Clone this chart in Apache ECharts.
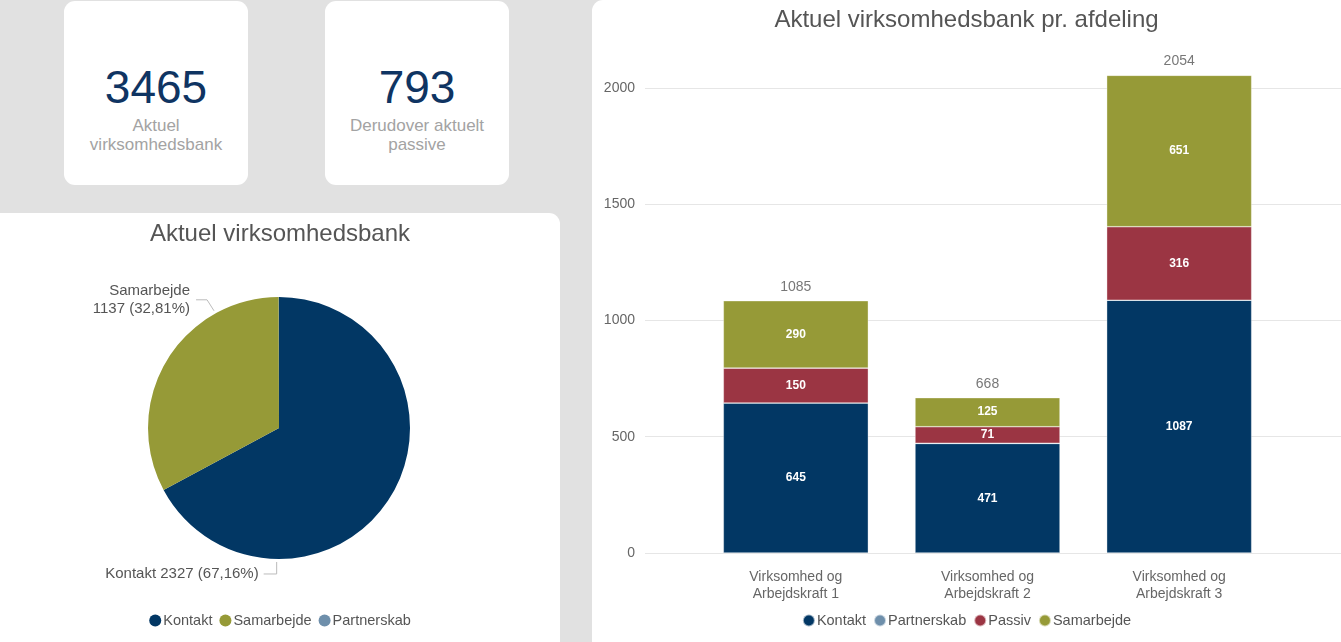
<!DOCTYPE html>
<html>
<head>
<meta charset="utf-8">
<script src="https://cdn.jsdelivr.net/npm/echarts@6/dist/echarts.min.js"></script>
<style>
  html, body { margin: 0; padding: 0; width: 1341px; height: 642px; overflow: hidden; background: #e1e1e1; font-family: 'Liberation Sans', Arial, sans-serif; }
  .card { position: absolute; background: #fff; border-radius: 11px; overflow: hidden; }
  .kpi { top: 1px; width: 184px; height: 184px; text-align: center; }
  .kpi .num { position: absolute; left: 0; right: 0; top: 60px; font-size: 46px; line-height: 52px; color: #0f3462; }
  .kpi .lbl { position: absolute; left: 0; right: 0; top: 115px; font-size: 17px; line-height: 19px; color: #a3a3a3; }
  #pieCard { left: -10px; top: 213px; width: 570px; height: 440px; }
  #pie { position: absolute; left: 10px; top: 0; width: 560px; height: 429px; }
  #barCard { left: 592px; top: 0; width: 760px; height: 652px; }
  #bar { position: absolute; left: 0; top: 0; width: 749px; height: 642px; }
</style>
</head>
<body>
<div class="card kpi" style="left:64px"><div class="num" id="kpi1"></div><div class="lbl">Aktuel<br>virksomhedsbank</div></div>
<div class="card kpi" style="left:325px"><div class="num" id="kpi2"></div><div class="lbl">Derudover aktuelt<br>passive</div></div>
<div class="card" id="pieCard"><div id="pie"></div></div>
<div class="card" id="barCard"><div id="bar"></div></div>
<script>
// KPI
const kpiAktuel = 3465;
const kpiPassive = 793;

// pie data
const pieNames = ['Kontakt', 'Samarbejde', 'Partnerskab'];
const pieValues = [2327, 1137, 1];

// bar data
const departments = ['Virksomhed og\nArbejdskraft 1', 'Virksomhed og\nArbejdskraft 2', 'Virksomhed og\nArbejdskraft 3'];
const kontakt = [645, 471, 1087];
const partnerskab = [0, 1, 0];
const passiv = [150, 71, 316];
const samarbejde = [290, 125, 651];
const totals = [1085, 668, 2054];
const yTicks = [0, 500, 1000, 1500, 2000];

const colors = {
  Kontakt: '#023764',
  Samarbejde: '#969a37',
  Partnerskab: '#6e8fab',
  Passiv: '#9b3543'
};
const font = "'Liberation Sans', Arial, sans-serif";

document.getElementById('kpi1').textContent = kpiAktuel;
document.getElementById('kpi2').textContent = kpiPassive;

// ---- pie ----
const pieChart = echarts.init(document.getElementById('pie'));
const pieCenter = [279, 215];
const pieRadius = 131;
// where Power BI puts the leader lines (degrees, math orientation)
const anchorAngle = { Samarbejde: 119, Kontakt: -91 };

pieChart.setOption({
  textStyle: { fontFamily: font },
  title: {
    text: 'Aktuel virksomhedsbank',
    left: 'center',
    top: 4,
    textStyle: { fontSize: 24, fontWeight: 'normal', color: '#555', fontFamily: font }
  },
  legend: {
    bottom: 9,
    left: 'center',
    icon: 'circle',
    itemWidth: 12,
    itemHeight: 12,
    itemGap: 7,
    textStyle: { fontSize: 14.5, color: '#555', padding: [0, 0, 0, -3] },
    data: pieNames
  },
  series: [{
    type: 'pie',
    center: pieCenter,
    radius: pieRadius,
    startAngle: 90,
    clockwise: true,
    data: pieNames.map((n, i) => ({
      name: n,
      value: pieValues[i],
      itemStyle: { color: colors[n] },
      label: { show: n !== 'Partnerskab' },
      labelLine: { show: n !== 'Partnerskab' }
    })),
    label: {
      fontSize: 15,
      color: '#555',
      lineHeight: 18,
      overflow: 'none',
      formatter: (p) => {
        const pct = p.percent.toFixed(2).replace('.', ',');
        return p.name === 'Samarbejde'
          ? p.name + '\n' + p.value + ' (' + pct + '%)'
          : p.name + ' ' + p.value + ' (' + pct + '%)';
      }
    },
    labelLine: { lineStyle: { color: '#bbb', width: 1 } },
    labelLayout: (params) => {
      const name = pieNames[params.dataIndex];
      const a = anchorAngle[name];
      if (a === undefined) return {};
      const rad = a * Math.PI / 180;
      const sx = pieCenter[0] + (pieRadius + 3) * Math.cos(rad);
      const sy = pieCenter[1] - (pieRadius + 3) * Math.sin(rad);
      if (name === 'Samarbejde') {
        const ky = sy - 11;
        return {
          x: sx - 24, y: ky, align: 'right', verticalAlign: 'middle',
          labelLinePoints: [[sx, sy], [sx - 7, ky], [sx - 18, ky]]
        };
      }
      const ky = sy + 12;
      return {
        x: sx - 18, y: ky, align: 'right', verticalAlign: 'middle',
        labelLinePoints: [[sx, sy], [sx, ky], [sx - 13, ky]]
      };
    }
  }]
});

// ---- stacked bar ----
const barChart = echarts.init(document.getElementById('bar'));
const yMax = 2150;
const segLabel = {
  show: true,
  position: 'inside',
  color: '#fff',
  fontSize: 12,
  fontWeight: 'bold',
  formatter: (p) => (p.value ? p.value : '')
};
function barSeries(name, data, showLabel) {
  return {
    name: name,
    type: 'bar',
    stack: 'total',
    xAxisIndex: 1,
    yAxisIndex: 1,
    barWidth: 145,
    data: data,
    itemStyle: { color: colors[name], borderColor: 'rgba(255,255,255,0.6)', borderWidth: 0.6 },
    label: showLabel ? segLabel : { show: false }
  };
}

barChart.setOption({
  textStyle: { fontFamily: font },
  title: {
    text: 'Aktuel virksomhedsbank pr. afdeling',
    left: 'center',
    top: 3,
    textStyle: { fontSize: 24, fontWeight: 'normal', color: '#555', fontFamily: font }
  },
  legend: {
    bottom: 9,
    left: 'center',
    icon: 'circle',
    itemWidth: 12,
    itemHeight: 12,
    itemGap: 7,
    textStyle: { fontSize: 14.5, color: '#555', padding: [0, 0, 0, -3] },
    data: ['Kontakt', 'Partnerskab', 'Passiv', 'Samarbejde']
  },
  grid: [
    { left: 53, right: 0, top: 53, bottom: 89 },
    { left: 108, right: 66, top: 53, bottom: 89 }
  ],
  xAxis: [
    { type: 'value', gridIndex: 0, show: false, min: 0, max: 1 },
    {
      type: 'category', gridIndex: 1, data: departments,
      axisLine: { show: false }, axisTick: { show: false },
      axisLabel: { fontSize: 14, color: '#666', lineHeight: 17, margin: 16, interval: 0 }
    }
  ],
  yAxis: [
    {
      type: 'value', gridIndex: 0, min: 0, max: yMax, interval: 500,
      axisLine: { show: false }, axisTick: { show: false },
      axisLabel: {
        fontSize: 14, color: '#666', margin: 10,
        formatter: (v) => (yTicks.indexOf(v) >= 0 ? String(v) : '')
      },
      splitLine: { lineStyle: { color: '#e6e6e6', width: 1 }, showMaxLine: false }
    },
    { type: 'value', gridIndex: 1, min: 0, max: yMax, show: false, splitLine: { show: false } }
  ],
  series: [
    barSeries('Kontakt', kontakt, true),
    barSeries('Partnerskab', partnerskab, false),
    barSeries('Passiv', passiv, true),
    barSeries('Samarbejde', samarbejde, true),
    {
      name: 'Total',
      type: 'scatter',
      xAxisIndex: 1,
      yAxisIndex: 1,
      symbolSize: 0,
      data: totals,
      silent: true,
      label: { show: true, position: 'top', distance: 7, fontSize: 14, color: '#555' }
    }
  ]
});
</script>
</body>
</html>
